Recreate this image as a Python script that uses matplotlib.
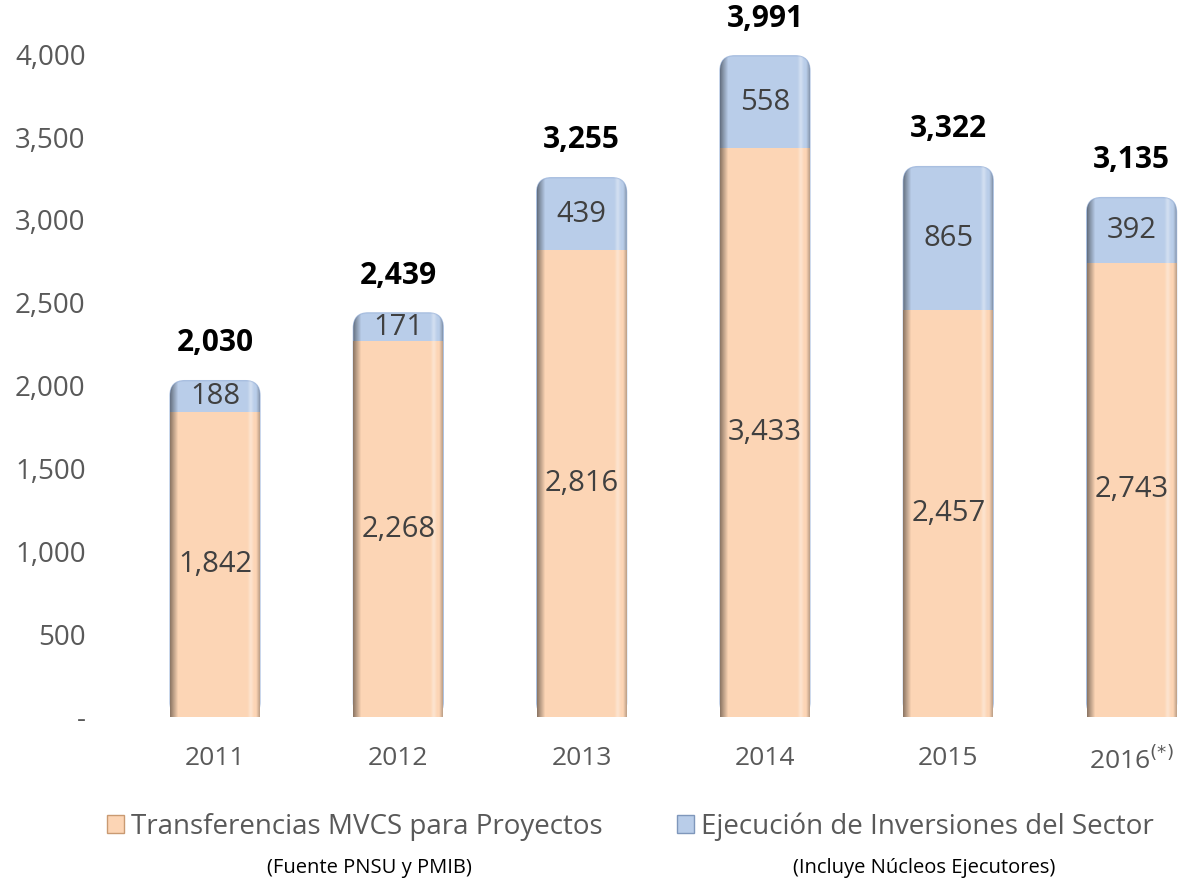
import matplotlib
matplotlib.use('Agg')
import matplotlib.pyplot as plt
import matplotlib.patches as mpatches
import numpy as np

plt.rcParams['font.family'] = ['Open Sans', 'DejaVu Sans']

years = ['2011', '2012', '2013', '2014', '2015', '2016$^{(*)}$']
transferencias = [1842, 2268, 2816, 3433, 2457, 2743]
ejecucion = [188, 171, 439, 558, 865, 392]
totales = [2030, 2439, 3255, 3991, 3322, 3135]

orange = '#FCD5B5'
blue = '#B9CDE9'
gray = '#595959'

fig = plt.figure(figsize=(11.96, 8.83), dpi=100)
ax = fig.add_axes([0.0878, 0.188, 0.912, 0.788])

x = np.arange(len(years))
w = 0.49

# horizontal shading profile used to fake the bevel on every bar
n = 200
t = np.linspace(0, 1, n)
dark = np.zeros((1, n, 4))
dark[0, :, 3] = np.clip(0.45 * (1 - t / 0.09), 0, None) + np.clip(0.25 * (t - 0.96) / 0.04, 0, None)
light = np.ones((1, n, 4))
light[0, :, 3] = 0.35 * np.exp(-((t - 0.9) / 0.025) ** 2)


def shade(patch, x0, x1, y0, y1):
    for img in (dark, light):
        im = ax.imshow(img, extent=(x0, x1, y0, y1), aspect='auto',
                       interpolation='bilinear', zorder=patch.get_zorder() + 0.1)
        im.set_clip_path(patch)


# blue bars: drawn from 0 to total with rounded top, orange covers the lower part
blue_bars = ax.bar(x, totales, w, color=blue, zorder=1)
for b in blue_bars:
    b.set_visible(False)
    rb = mpatches.FancyBboxPatch((b.get_x(), b.get_y()), b.get_width(), b.get_height(),
                                 boxstyle='round,pad=0,rounding_size=0.08',
                                 mutation_aspect=1125, facecolor=blue,
                                 edgecolor='#A9BFE0', linewidth=1, zorder=2)
    ax.add_patch(rb)
    shade(rb, b.get_x(), b.get_x() + b.get_width(), 0, b.get_height())

orange_bars = ax.bar(x, transferencias, w, color=orange, zorder=3)
for b in orange_bars:
    shade(b, b.get_x(), b.get_x() + b.get_width(), 0, b.get_height())

for i in range(len(x)):
    ax.text(x[i], transferencias[i] / 2, f'{transferencias[i]:,}', ha='center', va='center',
            fontsize=21, color='#404040', zorder=6)
    ax.text(x[i], transferencias[i] + ejecucion[i] / 2, f'{ejecucion[i]:,}', ha='center',
            va='center', fontsize=21, color='#404040', zorder=6)
    ax.text(x[i], totales[i] + 225, f'{totales[i]:,}', ha='center', va='center',
            fontsize=21.5, fontweight='bold', color='black', zorder=6)

ax.set_xlim(-0.6, 5.35)
ax.set_ylim(0, 4200)
ax.set_xticks(x)
ax.set_xticklabels(years, fontsize=19, color=gray)
ax.set_yticks(np.arange(0, 4001, 500))
ax.set_yticklabels(['-'] + [f'{v:,}' for v in range(500, 4001, 500)], fontsize=20, color=gray)
ax.tick_params(axis='x', length=0, pad=21)
ax.tick_params(axis='y', length=0, pad=14)
for s in ax.spines.values():
    s.set_visible(False)

handles = [mpatches.Patch(facecolor=orange, edgecolor='#C99A72'),
           mpatches.Patch(facecolor=blue, edgecolor='#7F97BB')]
fig.legend(handles, ['Transferencias MVCS para Proyectos', 'Ejecución de Inversiones del Sector'],
           loc='center', bbox_to_anchor=(0.527, 0.064), ncol=2, frameon=False,
           fontsize=20, handlelength=0.6, handleheight=0.6, handletextpad=0.25,
           columnspacing=2.7, labelcolor=gray)
fig.text(0.309, 0.017, '(Fuente PNSU y PMIB)', ha='center', va='center', fontsize=14.5, color='black')
fig.text(0.773, 0.017, '(Incluye Núcleos Ejecutores)', ha='center', va='center', fontsize=14.5, color='black')

fig.savefig('out.png', dpi=100)
